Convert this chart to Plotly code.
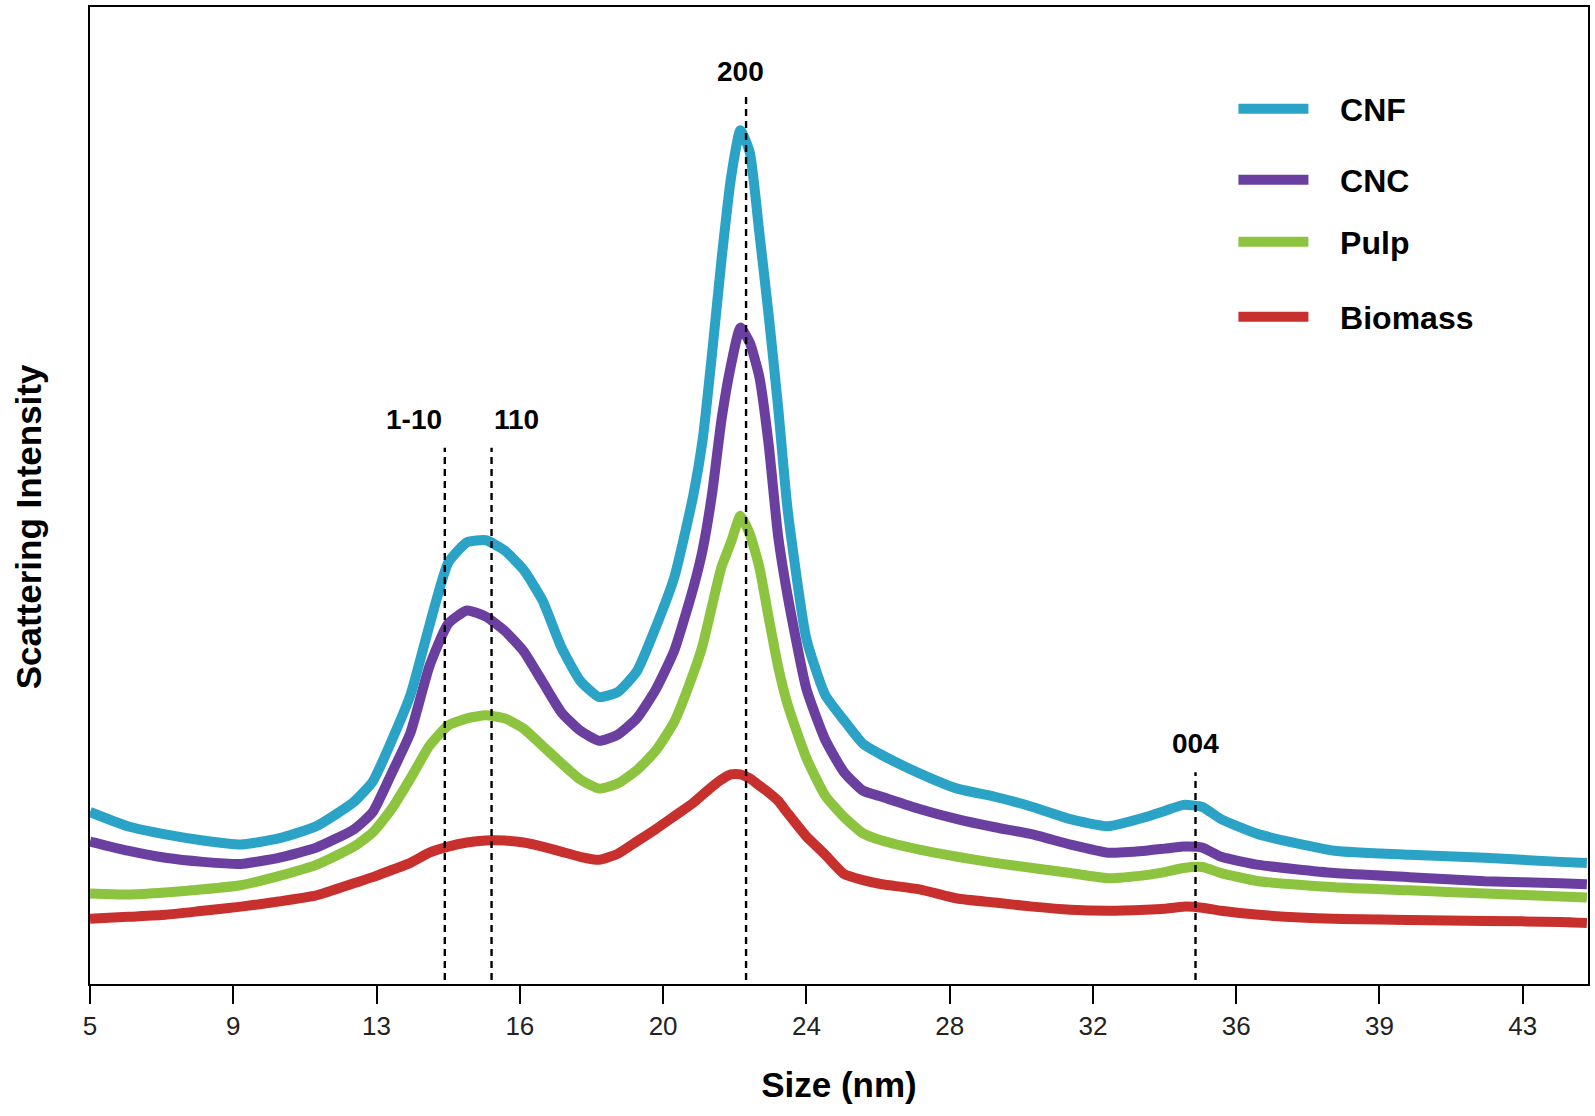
import plotly.graph_objects as go

# ---- data ----
size_nm = [5.0, 6.0, 7.0, 8.0, 9.0, 10.0, 11.0, 12.0,
           12.5, 13.0, 13.5, 14.0, 14.5, 15.0, 15.5, 16.0, 16.5, 17.0, 17.5, 18.0, 18.5, 19.0, 19.5, 20.0, 20.5, 21.0,
           21.25, 21.5, 21.75, 22.0, 22.25, 22.5, 22.75, 23.0, 23.25, 23.5,
           24.0, 24.5, 25.0, 25.5, 26.0,
           27.0, 28.0, 29.0, 30.0, 31.0, 32.0, 33.0,
           33.5, 34.0, 34.5, 35.0,
           36.0, 38.0, 40.0, 42.0, 44.0, 44.7]

cnf = [169, 155, 147, 141, 137, 143, 155, 179,
       199, 239, 284, 352, 414, 434, 436, 426, 407, 377, 331, 298, 282, 287, 307, 350, 400, 480,
       535, 620, 712, 792, 839, 817, 739, 657, 567, 467,
       339, 284, 259, 236, 225,
       207, 192, 184, 174, 162, 155, 164,
       170, 176, 174, 162,
       147, 131, 127, 124, 120, 119]

cnc = [140, 131, 124, 120, 118, 124, 134, 152,
       169, 207, 247, 312, 354, 367, 361, 347, 327, 297, 267, 249, 239, 245, 261, 289, 328, 389,
       427, 482, 555, 608, 645, 630, 597, 530, 440, 382,
       290, 240, 208, 190, 184,
       172, 162, 154, 147, 137, 129, 131,
       133, 135, 134, 125,
       117, 109, 105, 101, 99, 98]

pulp = [89, 88, 90, 93, 97, 106, 117, 135,
        149, 172, 202, 234, 254, 261, 264, 261, 251, 234, 217, 201, 192, 197, 210, 229, 258, 305,
        333, 372, 410, 434, 460, 442, 410, 360, 312, 275,
        222, 185, 164, 148, 141,
        132, 125, 119, 114, 109, 104, 107,
        110, 114, 115, 109,
        101, 95, 92, 89, 86, 85]

biomass = [64, 66, 68, 72, 76, 81, 87, 99,
           105, 112, 119, 129, 135, 139, 141, 141, 139, 135, 130, 125, 122, 128, 140, 152, 165, 178,
           186, 194, 201, 206, 206, 202, 195, 188, 180, 168,
           145, 127, 108, 102, 98,
           93, 84, 80, 76, 73, 72, 73,
           74, 76, 75, 72,
           68, 64, 63, 62, 61, 60]

series_names = ["CNF", "CNC", "Pulp", "Biomass"]
series_colors = ["#2aa3c6", "#6b3f9f", "#8cc43f", "#c8302d"]

peak_labels = ["1-10", "110", "200", "004"]
peak_nm = [14.41, 15.65, 22.40, 34.32]
peak_line_top = [527, 527, 872, 208]

tick_vals = [5, 8.8, 12.6, 16.4, 20.2, 24, 27.8, 31.6, 35.4, 39.2, 43]
tick_text = ["5", "9", "13", "16", "20", "24", "28", "32", "36", "39", "43"]

# ---- figure ----
fig = go.Figure()
all_vals = [cnf, cnc, pulp, biomass]
legend_ids = ["legend", "legend2", "legend3", "legend4"]
for i in reversed(range(4)):
    fig.add_trace(go.Scatter(
        x=size_nm, y=all_vals[i], mode="lines",
        name="\u00a0\u00a0\u00a0" + series_names[i],
        line=dict(color=series_colors[i], width=10, shape="spline", smoothing=0.5),
        legend=legend_ids[i],
    ))

# dashed peak markers
label_offsets = [(-0.81, 28), (0.65, 28), (-0.14, 25), (0.0, 28)]
for lab, pos, top, off in zip(peak_labels, peak_nm, peak_line_top, label_offsets):
    fig.add_shape(type="line", xref="x", yref="y", x0=pos, x1=pos, y0=4, y1=top,
                  line=dict(color="black", width=2.4, dash="7px,5px"), layer="above")
    fig.add_annotation(x=pos + off[0], y=top + off[1], xref="x", yref="y", text=lab,
                       showarrow=False, yanchor="middle",
                       font=dict(family="Liberation Sans, Arial, sans-serif", size=28,
                                 color="black", weight="bold"))

title_font = dict(family="Liberation Sans, Arial, sans-serif",
                  size=35, color="black", weight="bold")

# y-axis title (placed slightly below the plot centre, as in the original)
fig.add_annotation(text="Scattering Intensity", xref="paper", yref="paper",
                   x=-0.041, y=0.468, xanchor="center", yanchor="middle",
                   textangle=-90, showarrow=False, font=title_font)

leg_font = dict(family="Liberation Sans, Arial, sans-serif", size=32, color="black", weight="bold")
leg_ys = [0.8956, 0.8229, 0.7595, 0.6827]
legend_layout = {}
for lid, ly in zip(legend_ids, leg_ys):
    legend_layout[lid] = dict(x=0.7633, xanchor="left", y=ly, yanchor="middle",
                              bgcolor="rgba(0,0,0,0)", borderwidth=0, font=leg_font,
                              itemwidth=70)

fig.update_layout(
    width=1595, height=1116,
    margin=dict(l=90, r=7, t=7, b=132),
    paper_bgcolor="white", plot_bgcolor="white",
    showlegend=True,
    xaxis=dict(range=[5, 44.73], tickvals=tick_vals, ticktext=tick_text,
               ticks="outside", ticklen=18, tickwidth=1.5, tickcolor="black",
               showline=True, linewidth=2, linecolor="black", mirror=True,
               showgrid=False, zeroline=False, automargin=False,
               tickfont=dict(family="Liberation Sans, Arial, sans-serif", size=26, color="#222"),
               title=dict(text="Size (nm)", font=title_font, standoff=32)),
    yaxis=dict(range=[0, 960], showticklabels=False, ticks="",
               showline=True, linewidth=2, linecolor="black", mirror=True,
               showgrid=False, zeroline=False, automargin=False),
    **legend_layout,
)

fig.write_html("out.html",
               config={"displayModeBar": False},
               post_script="document.body.style.margin='0';document.body.style.overflow='hidden';")
